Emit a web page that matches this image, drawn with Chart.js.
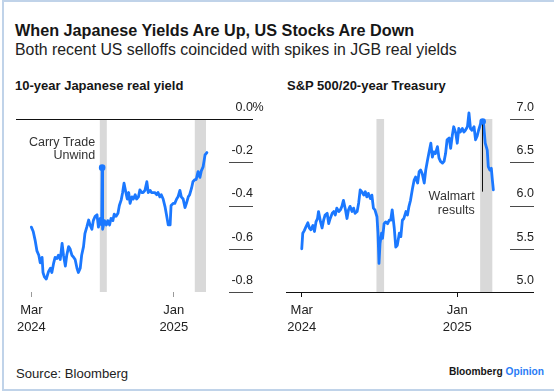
<!DOCTYPE html>
<html><head><meta charset="utf-8">
<script src="https://cdn.jsdelivr.net/npm/chart.js@4.4.1/dist/chart.umd.min.js"></script>
<style>
html,body{margin:0;padding:0;background:#fff;}
body{width:554px;height:392px;position:relative;overflow:hidden;font-family:'Liberation Sans',Arial,sans-serif;color:#161616;}
.t{position:absolute;white-space:nowrap;line-height:1;}
#frame{position:absolute;left:2px;top:0;width:560px;height:387px;border-top:2px solid #c0d3e9;border-left:2px solid #c0d3e9;border-bottom:2px solid #c0d3e9;}
canvas{position:absolute;}
</style></head>
<body>
<div id="frame"></div>
<div class="t" style="left:15px;top:21.8px;font-size:16.2px;font-weight:bold;">When Japanese Yields Are Up, US Stocks Are Down</div>
<div class="t" style="left:15px;top:41.6px;font-size:15.85px;color:#222;">Both recent US selloffs coincided with spikes in JGB real yields</div>
<div class="t" style="left:15px;top:79px;font-size:13px;font-weight:bold;">10-year Japanese real yield</div>
<div class="t" style="left:287px;top:79px;font-size:13px;font-weight:bold;">S&amp;P 500/20-year Treasury</div>
<div class="t" style="left:16px;top:366.6px;font-size:13.1px;color:#222;">Source: Bloomberg</div>
<div class="t" style="right:10px;top:367px;font-size:10.2px;font-weight:bold;">Bloomberg <span style="color:#2a7cf6">Opinion</span></div>
<canvas id="c1" width="277" height="255" style="left:0;top:95px"></canvas>
<canvas id="c2" width="277" height="255" style="left:277px;top:95px"></canvas>
<script>
// ---- data ----
const leftDates = ['2024-03-01','2024-03-05','2024-03-09','2024-03-13','2024-03-17','2024-03-20','2024-03-24','2024-03-26','2024-03-29','2024-04-02','2024-04-07','2024-04-11','2024-04-14','2024-04-18','2024-04-21','2024-04-25','2024-04-28','2024-05-02','2024-05-06','2024-05-09','2024-05-13','2024-05-16','2024-05-20','2024-05-23','2024-05-27','2024-05-31','2024-06-03','2024-06-07','2024-06-10','2024-06-14','2024-06-17','2024-06-21','2024-06-24','2024-06-28','2024-07-02','2024-07-05','2024-07-09','2024-07-12','2024-07-16','2024-07-20','2024-07-23','2024-07-27','2024-07-30','2024-07-31','2024-08-01','2024-08-05','2024-08-09','2024-08-12','2024-08-16','2024-08-19','2024-08-23','2024-08-26','2024-08-30','2024-09-03','2024-09-06','2024-09-10','2024-09-13','2024-09-16','2024-09-20','2024-09-23','2024-09-26','2024-09-29','2024-10-03','2024-10-06','2024-10-10','2024-10-13','2024-10-17','2024-10-20','2024-10-24','2024-10-27','2024-10-31','2024-11-04','2024-11-07','2024-11-11','2024-11-14','2024-11-18','2024-11-21','2024-11-25','2024-11-28','2024-12-02','2024-12-05','2024-12-09','2024-12-13','2024-12-16','2024-12-20','2024-12-24','2024-12-26','2024-12-31','2025-01-03','2025-01-07','2025-01-10','2025-01-14','2025-01-17','2025-01-21','2025-01-25','2025-01-28','2025-02-01','2025-02-04','2025-02-08','2025-02-11','2025-02-15','2025-02-18','2025-02-22','2025-02-26','2025-03-01','2025-03-05','2025-03-09','2025-03-13'];
const leftValues = [-0.50,-0.52,-0.56,-0.61,-0.63,-0.665,-0.64,-0.71,-0.73,-0.74,-0.705,-0.69,-0.71,-0.665,-0.64,-0.645,-0.63,-0.65,-0.575,-0.63,-0.68,-0.63,-0.59,-0.60,-0.63,-0.64,-0.65,-0.69,-0.71,-0.69,-0.63,-0.59,-0.53,-0.50,-0.467,-0.49,-0.51,-0.47,-0.45,-0.443,-0.50,-0.46,-0.49,-0.225,-0.51,-0.47,-0.49,-0.47,-0.49,-0.46,-0.47,-0.44,-0.45,-0.436,-0.40,-0.374,-0.34,-0.297,-0.34,-0.37,-0.34,-0.39,-0.36,-0.37,-0.35,-0.37,-0.36,-0.328,-0.34,-0.34,-0.33,-0.29,-0.34,-0.33,-0.34,-0.34,-0.34,-0.35,-0.34,-0.36,-0.35,-0.37,-0.405,-0.44,-0.49,-0.49,-0.40,-0.39,-0.39,-0.37,-0.36,-0.33,-0.36,-0.37,-0.41,-0.39,-0.36,-0.35,-0.32,-0.29,-0.28,-0.28,-0.243,-0.27,-0.24,-0.22,-0.166,-0.155];

const rightDates = ['2024-03-01','2024-03-03','2024-03-06','2024-03-09','2024-03-13','2024-03-16','2024-03-19','2024-03-23','2024-03-26','2024-03-29','2024-04-01','2024-04-03','2024-04-07','2024-04-10','2024-04-13','2024-04-16','2024-04-20','2024-04-23','2024-04-26','2024-04-30','2024-05-03','2024-05-06','2024-05-09','2024-05-13','2024-05-16','2024-05-19','2024-05-22','2024-05-26','2024-05-29','2024-06-01','2024-06-04','2024-06-08','2024-06-11','2024-06-14','2024-06-18','2024-06-21','2024-06-24','2024-06-27','2024-07-01','2024-07-04','2024-07-07','2024-07-10','2024-07-14','2024-07-17','2024-07-20','2024-07-23','2024-07-27','2024-07-29','2024-07-31','2024-08-02','2024-08-05','2024-08-07','2024-08-10','2024-08-13','2024-08-17','2024-08-20','2024-08-23','2024-08-26','2024-08-30','2024-09-02','2024-09-05','2024-09-09','2024-09-12','2024-09-15','2024-09-18','2024-09-22','2024-09-25','2024-09-28','2024-10-01','2024-10-05','2024-10-08','2024-10-11','2024-10-15','2024-10-18','2024-10-21','2024-10-24','2024-10-28','2024-10-31','2024-11-03','2024-11-06','2024-11-10','2024-11-13','2024-11-16','2024-11-19','2024-11-23','2024-11-26','2024-11-29','2024-12-03','2024-12-06','2024-12-09','2024-12-12','2024-12-16','2024-12-19','2024-12-22','2024-12-25','2024-12-29','2025-01-01','2025-01-04','2025-01-07','2025-01-11','2025-01-14','2025-01-17','2025-01-21','2025-01-24','2025-01-27','2025-01-30','2025-02-03','2025-02-06','2025-02-09','2025-02-12','2025-02-16','2025-02-20','2025-02-22','2025-02-25','2025-03-01','2025-03-03','2025-03-06','2025-03-09','2025-03-11','2025-03-13'];
const rightValues = [5.50,5.68,5.71,5.75,5.80,5.74,5.72,5.77,5.70,5.81,5.85,5.93,5.81,5.74,5.83,5.89,5.91,5.79,5.85,5.91,5.93,5.89,5.97,5.93,5.95,5.99,6.06,5.95,5.85,5.95,5.99,5.93,5.97,5.91,5.93,6.03,6.18,6.16,6.12,6.16,6.10,6.14,6.08,6.12,5.97,5.95,5.87,5.68,5.33,5.56,5.68,5.62,5.79,5.81,5.79,5.83,5.83,5.95,5.74,5.52,5.54,5.68,5.64,5.83,5.85,5.93,5.89,5.99,6.06,6.20,6.29,6.33,6.26,6.39,6.41,6.37,6.26,6.41,6.51,6.60,6.72,6.56,6.62,6.60,6.68,6.55,6.51,6.49,6.51,6.60,6.76,6.78,6.66,6.80,6.91,6.84,6.72,6.89,6.85,6.89,6.85,6.87,6.91,7.07,6.89,6.87,6.91,6.76,6.80,6.87,6.95,6.97,6.93,6.72,6.64,6.45,6.41,6.43,6.30,6.18];

const xTickDates = ['2024-03-01','2025-01-01'];
const xTickLabels = [['Mar','2024'],['Jan','2025']];
const leftYTicks = [-0.8,-0.6,-0.4,-0.2,0];
const rightYTicks = [5.0,5.5,6.0,6.5,7.0];
const bands = [['2024-07-26','2024-08-10'],['2025-02-15','2025-03-11']];
const leftNote = {date:'2024-07-31', lines:['Carry Trade','Unwind']};
const rightNote = {date:'2025-02-20', lines:['Walmart','results'], lineTo:6.16};

// ---- helpers ----
const DAY = 86400000, T0 = Date.UTC(2024,2,1);
function dayOf(s){const p=s.split('-').map(Number);return (Date.UTC(p[0],p[1]-1,p[2])-T0)/DAY;}
const BLUE = '#1b78ff';
Chart.defaults.font.family = "'Liberation Sans', Arial, sans-serif";

const panelPlugin = {
  id:'panel',
  beforeDatasetsDraw(chart, args, o){
    const {ctx, chartArea:a, scales:{x}} = chart;
    ctx.save(); ctx.fillStyle = '#d9d9d9';
    bands.forEach(([s,e])=>{
      const x1 = x.getPixelForValue(dayOf(s)), x2 = x.getPixelForValue(dayOf(e));
      ctx.fillRect(x1, a.top, x2-x1, a.bottom-a.top);
    });
    ctx.restore();
  },
  afterDatasetsDraw(chart, args, o){
    const {ctx, chartArea:a, scales:{y}} = chart;
    ctx.save();
    o.ticks.forEach(v=>{
      const py = Math.round(y.getPixelForValue(v)) + 0.5;
      const full = v === o.fullLine;
      ctx.strokeStyle = full ? '#111' : '#4a4a4a';
      ctx.lineWidth = 1;
      ctx.beginPath(); ctx.moveTo(full ? a.left : a.right-24, py); ctx.lineTo(a.right, py); ctx.stroke();
    });
    if (o.percent) {
      ctx.font = "12.5px 'Liberation Sans', Arial, sans-serif";
      ctx.fillStyle = '#222'; ctx.textAlign='left'; ctx.textBaseline='middle';
      ctx.fillText('%', a.right-0.5, y.getPixelForValue(0) - 11.5);
    }
    const n = o.note;
    const idx = chart.data.datasets[0].data.findIndex(p => p.x === dayOf(n.date));
    const pt = chart.getDatasetMeta(0).data[idx];
    ctx.font = "12.5px 'Liberation Sans', Arial, sans-serif";
    ctx.fillStyle = '#333'; ctx.textAlign='right'; ctx.textBaseline='middle';
    if (n.lineTo !== undefined) {
      const yEnd = y.getPixelForValue(n.lineTo);
      ctx.strokeStyle = '#111'; ctx.lineWidth = 1;
      ctx.beginPath(); ctx.moveTo(Math.round(pt.x)-0.5, pt.y+3); ctx.lineTo(Math.round(pt.x)-0.5, yEnd); ctx.stroke();
      ctx.fillText(n.lines[0], pt.x-8, yEnd+5);
      ctx.fillText(n.lines[1], pt.x-8, yEnd+19);
    } else {
      ctx.fillText(n.lines[0], pt.x-7, pt.y-25.5);
      ctx.fillText(n.lines[1], pt.x-7, pt.y-12.5);
    }
    ctx.restore();
  }
};

function makeChart(id, dates, values, yTicks, xMin, xMax, pad, tickColor, note, extra){
  const pts = dates.map((d,i)=>({x:dayOf(d), y:values[i]}));
  const mIdx = dates.indexOf(note.date);
  return new Chart(document.getElementById(id), {
    type:'line',
    data:{datasets:[{data:pts, borderColor:BLUE, backgroundColor:BLUE, borderWidth:2.8, tension:0,
      borderJoinStyle:'round', borderCapStyle:'round',
      pointRadius:c=>c.index===mIdx?3.3:0, pointHoverRadius:0, pointBorderWidth:0, pointBackgroundColor:BLUE, clip:false}]},
    options:{
      responsive:false, devicePixelRatio:1, animation:false,
      layout:{padding:pad},
      plugins:{legend:{display:false}, tooltip:{enabled:false},
        panel:Object.assign({ticks:yTicks, note:note}, extra)},
      scales:{
        x:{type:'linear', min:dayOf(xMin), max:dayOf(xMax),
          afterBuildTicks:s=>{s.ticks = xTickDates.map(d=>({value:dayOf(d)}));},
          afterFit:s=>{s.height=58;},
          ticks:{callback:(v,i)=>xTickLabels[i], font:{size:13, lineHeight:1.28}, color:'#222', padding:5, maxRotation:0, autoSkip:false},
          grid:{display:true, drawOnChartArea:false, drawTicks:true, tickLength:5, color:tickColor, lineWidth:1},
          border:{display:false}},
        y:{position:'right', min:yTicks[0], max:yTicks[yTicks.length-1],
          afterBuildTicks:s=>{s.ticks = yTicks.map(v=>({value:v}));},
          afterFit:s=>{s.width=0;},
          ticks:{mirror:true, padding:0, labelOffset:-11.5, callback:v=>Number(v).toFixed(1), font:{size:12.5}, color:'#222', autoSkip:false},
          grid:{display:false}, border:{display:false}}
      }
    },
    plugins:[panelPlugin]
  });
}

makeChart('c1', leftDates, leftValues, leftYTicks, '2024-01-28', '2025-06-20',
  {left:16, right:24, top:24, bottom:0}, '#9a9a9a', leftNote, {fullLine:0, percent:true});
makeChart('c2', rightDates, rightValues, rightYTicks, '2024-01-30', '2025-06-01',
  {left:9, right:20, top:24, bottom:0}, '#111', rightNote, {fullLine:5, percent:false});
</script>
</body></html>
